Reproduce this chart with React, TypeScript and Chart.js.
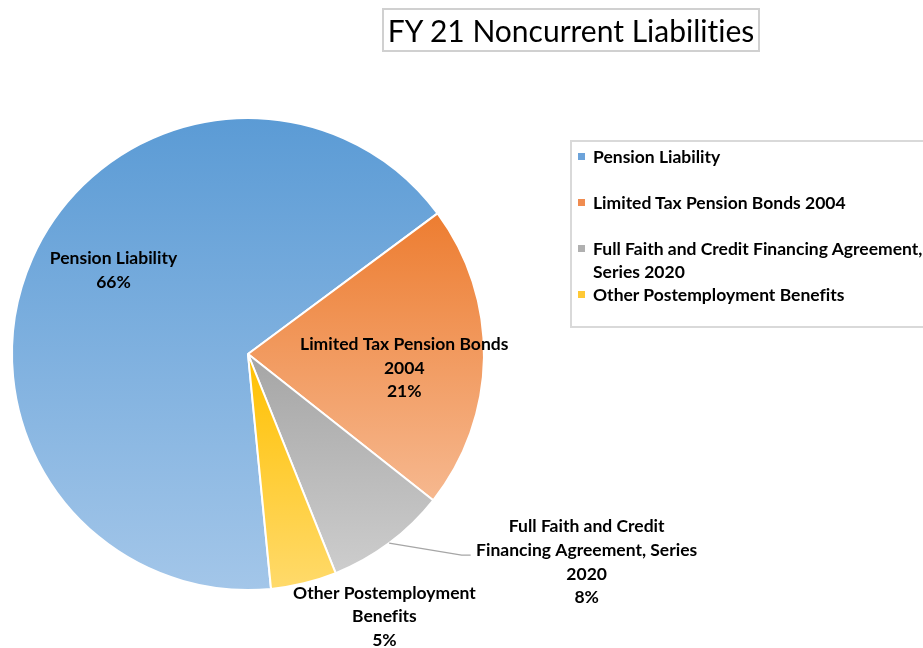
import React, { useEffect, useRef } from "react";
import { Chart, registerables } from "chart.js";

Chart.register(...registerables);

// ---------- data ----------
const chartTitle = "FY 21 Noncurrent Liabilities";
const categories = [
  "Pension Liability",
  "Limited Tax Pension Bonds 2004",
  "Full Faith and Credit Financing Agreement, Series 2020",
  "Other Postemployment Benefits",
];
const shares = [66.4, 20.8, 8.3, 4.5];
const percentLabels = ["66%", "21%", "8%", "5%"];
const dataLabelLines = [
  ["Pension Liability"],
  ["Limited Tax Pension Bonds", "2004"],
  ["Full Faith and Credit", "Financing Agreement, Series", "2020"],
  ["Other Postemployment", "Benefits"],
];
const legendLines = [
  ["Pension Liability"],
  ["Limited Tax Pension Bonds 2004"],
  ["Full Faith and Credit Financing Agreement,", "Series 2020"],
  ["Other Postemployment Benefits"],
];

// ---------- styles ----------
const FONT = "Lato, 'Noto Sans', sans-serif";
const LABEL_SIZE = 17.5;
const gradTop = ["#5b9bd5", "#ed7d31", "#a5a5a5", "#ffc000"];
const gradBottom = ["#a3c6e9", "#f6b88f", "#cdcdcd", "#ffda6b"];
const markerColors = ["#6ca3da", "#f08c50", "#b0b0b0", "#ffc935"];
// label centre offsets relative to pie centre, in units of radius
const labelOffsets = [
  [-0.57, -0.355],
  [0.662, 0.06],
  [1.435, 0.882],
  [0.578, 1.113],
];
const leaderFor = [false, false, true, false];

function sliceGradient(ctx: CanvasRenderingContext2D, el: any, i: number) {
  if (!el || el.outerRadius === undefined || isNaN(el.outerRadius)) return gradTop[i];
  const { x, y, outerRadius: r, startAngle: s, endAngle: e } = el;
  const ys = [y, y + r * Math.sin(s), y + r * Math.sin(e)];
  const TWO = Math.PI * 2;
  const within = (a: number) => {
    for (let k = -3; k <= 3; k++) {
      const v = a + k * TWO;
      if (v >= s && v <= e) return true;
    }
    return false;
  };
  if (within(Math.PI / 2)) ys.push(y + r);
  if (within(-Math.PI / 2)) ys.push(y - r);
  const top = Math.min(...ys);
  const bot = Math.max(...ys);
  const g = ctx.createLinearGradient(0, top, 0, bot);
  g.addColorStop(0, gradTop[i]);
  g.addColorStop(1, gradBottom[i]);
  return g;
}

const labelPlugin = {
  id: "sliceLabels",
  afterDatasetsDraw(chart: any) {
    const ctx: CanvasRenderingContext2D = chart.ctx;
    const meta = chart.getDatasetMeta(0);
    ctx.save();
    ctx.font = `bold ${LABEL_SIZE}px ${FONT}`;
    ctx.fillStyle = "#000";
    ctx.textAlign = "center";
    ctx.textBaseline = "middle";
    const lh = 23.6;
    meta.data.forEach((arc: any, i: number) => {
      const { x, y, outerRadius, startAngle, endAngle } = arc;
      const lines = [...dataLabelLines[i], percentLabels[i]];
      const cx = x + labelOffsets[i][0] * outerRadius;
      const cy = y + labelOffsets[i][1] * outerRadius;
      const top = cy - ((lines.length - 1) * lh) / 2;
      if (leaderFor[i]) {
        const mid = (startAngle + endAngle) / 2;
        ctx.save();
        ctx.strokeStyle = "#a6a6a6";
        ctx.lineWidth = 1.3;
        ctx.beginPath();
        ctx.moveTo(x + outerRadius * Math.cos(mid), y + outerRadius * Math.sin(mid));
        ctx.lineTo(cx - 125, cy - 7);
        ctx.lineTo(cx - 116, cy - 7);
        ctx.stroke();
        ctx.restore();
      }
      lines.forEach((t, k) => ctx.fillText(t, cx, top + k * lh));
    });
    ctx.restore();
  },
};

export default function App() {
  const canvasRef = useRef<HTMLCanvasElement | null>(null);

  useEffect(() => {
    const canvas = canvasRef.current;
    if (!canvas) return;
    const chart = new Chart(canvas, {
      type: "pie",
      data: {
        labels: categories,
        datasets: [
          {
            data: shares,
            backgroundColor: (c: any) => sliceGradient(c.chart.ctx, c.element, c.dataIndex),
            borderColor: "#ffffff",
            borderWidth: 2,
          },
        ],
      },
      options: {
        responsive: false,
        animation: false,
        rotation: 174.4,
        layout: { padding: { left: 11, top: 117, right: 438, bottom: 57 } },
        plugins: {
          legend: { display: false },
          tooltip: { enabled: false },
          title: { display: false },
        },
      },
      plugins: [labelPlugin],
    } as any);
    chart.update();
    return () => chart.destroy();
  }, []);

  return (
    <div
      style={{
        position: "fixed",
        left: 0,
        top: 0,
        width: 923,
        height: 648,
        overflow: "hidden",
        background: "#fff",
        fontFamily: FONT,
        fontVariantLigatures: "none",
      }}
    >
      <canvas ref={canvasRef} width={923} height={648} style={{ position: "absolute", left: 0, top: 0 }} />
      <div
        style={{
          position: "absolute",
          left: 382,
          top: 8,
          width: 378,
          height: 44,
          boxSizing: "border-box",
          border: "2px solid #d0d0d0",
          fontSize: 30,
          lineHeight: "40px",
          textAlign: "center",
          color: "#000",
          whiteSpace: "nowrap",
        }}
      >
        {chartTitle}
      </div>
      <div
        style={{
          position: "absolute",
          left: 570,
          top: 140,
          width: 380,
          height: 188,
          boxSizing: "border-box",
          border: "2px solid #d9d9d9",
          paddingTop: 3,
        }}
      >
        {categories.map((cat, i) => (
          <div key={cat} style={{ position: "relative", height: 46, paddingLeft: 21 }}>
            <div
              style={{
                position: "absolute",
                left: 6,
                top: 8,
                width: 7,
                height: 7,
                background: markerColors[i],
              }}
            />
            {legendLines[i].map((ln, k) => (
              <div
                key={k}
                style={{
                  fontWeight: 700,
                  fontSize: LABEL_SIZE,
                  lineHeight: "23px",
                  color: "#000",
                  whiteSpace: "nowrap",
                }}
              >
                {ln}
              </div>
            ))}
          </div>
        ))}
      </div>
    </div>
  );
}
